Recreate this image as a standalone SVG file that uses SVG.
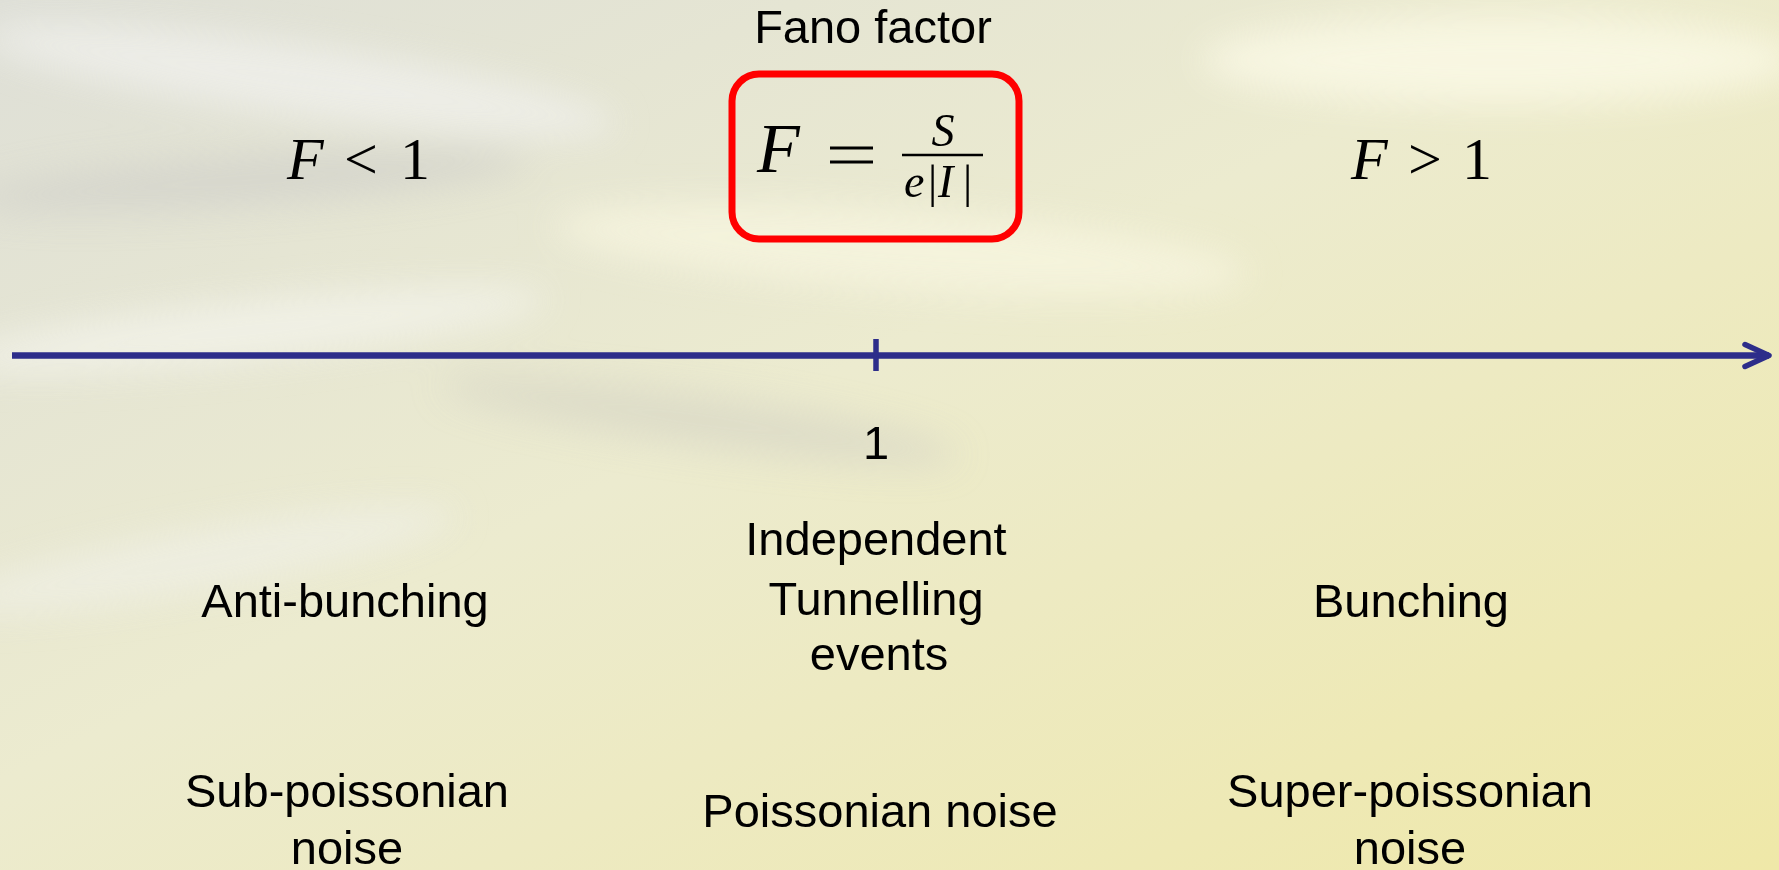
<svg xmlns="http://www.w3.org/2000/svg" width="1779" height="870" viewBox="0 0 1779 870">
<defs>
<linearGradient id="bg" x1="0" y1="0" x2="1" y2="1">
<stop offset="0" stop-color="#dedfd7"/>
<stop offset="0.45" stop-color="#ecebcf"/>
<stop offset="1" stop-color="#efe8a8"/>
</linearGradient>
<filter id="blur" x="-20%" y="-50%" width="140%" height="200%"><feGaussianBlur stdDeviation="18"/></filter>
<marker id="arrow" markerWidth="12" markerHeight="12" refX="9" refY="6" orient="auto" markerUnits="userSpaceOnUse" viewBox="0 0 12 12" overflow="visible">
<path d="M-15,-5 L9,6 L-15,17" fill="none" stroke="#2d2d8a" stroke-width="5.5" stroke-linecap="round" stroke-linejoin="round"/>
</marker>
<style>
.lbl{font-family:"Liberation Sans",Arial,sans-serif;font-size:47px;fill:#000;text-anchor:middle}
.math{font-family:"Liberation Serif","Times New Roman",serif;fill:#000}
.it{font-style:italic}
</style>
</defs>
<rect width="1779" height="870" fill="url(#bg)"/>
<g filter="url(#blur)" opacity="0.8">
<ellipse cx="1500" cy="60" rx="300" ry="45" fill="#fbf9e6"/>
<ellipse cx="300" cy="80" rx="320" ry="35" fill="#f0f0ec" transform="rotate(8 300 80)"/>
<ellipse cx="250" cy="330" rx="300" ry="30" fill="#f3f3ea" transform="rotate(-6 250 330)"/>
<ellipse cx="900" cy="250" rx="350" ry="40" fill="#f7f5df" transform="rotate(4 900 250)"/>
<ellipse cx="200" cy="560" rx="260" ry="30" fill="#efefe4" transform="rotate(-10 200 560)"/>
<ellipse cx="700" cy="420" rx="260" ry="25" fill="#d9d8c6" transform="rotate(8 700 420)"/>
<ellipse cx="250" cy="180" rx="280" ry="25" fill="#d3d3cb" transform="rotate(-4 250 180)"/>
</g>
<g id="axis">
<line x1="12" y1="355.5" x2="1769" y2="355.5" stroke="#2d2d8a" stroke-width="6.5" marker-end="url(#arrow)"/>
<line x1="876" y1="339" x2="876" y2="371" stroke="#2d2d8a" stroke-width="5.5"/>
</g>
<g id="title"><text class="lbl" x="873" y="43">Fano factor</text></g>
<g id="formula">
<rect x="732" y="74" width="287" height="165" rx="27" ry="27" fill="none" stroke="#ff0000" stroke-width="7"/>
<text class="math it" x="757" y="172" font-size="70">F</text>
<line x1="830" y1="148" x2="873" y2="148" stroke="#000" stroke-width="3"/>
<line x1="830" y1="162" x2="873" y2="162" stroke="#000" stroke-width="3"/>
<text class="math it" x="943" y="146" font-size="46" text-anchor="middle">S</text>
<line x1="902" y1="155" x2="983" y2="155" stroke="#000" stroke-width="2.5"/>
<text class="math" y="197" font-size="46"><tspan class="it" x="904">e</tspan><tspan x="928">|</tspan><tspan class="it" x="938">I</tspan><tspan x="963">|</tspan></text>
</g>
<g id="left-cond"><text class="math" x="287" y="179" font-size="60"><tspan class="it">F</tspan><tspan x="344">&lt;</tspan><tspan x="400">1</tspan></text></g>
<g id="right-cond"><text class="math" x="1351" y="179" font-size="60"><tspan class="it">F</tspan><tspan x="1408">&gt;</tspan><tspan x="1462">1</tspan></text></g>
<g id="tick-label"><text class="lbl" x="876" y="459">1</text></g>
<g id="anti"><text class="lbl" x="345" y="617">Anti-bunching</text></g>
<g id="indep"><text class="lbl" x="876" y="555">Independent</text><text class="lbl" x="876" y="615">Tunnelling</text><text class="lbl" x="879" y="670">events</text></g>
<g id="bunch"><text class="lbl" x="1411" y="617">Bunching</text></g>
<g id="sub"><text class="lbl" x="347" y="807">Sub-poissonian</text><text class="lbl" x="347" y="864">noise</text></g>
<g id="poiss"><text class="lbl" x="880" y="827">Poissonian noise</text></g>
<g id="super"><text class="lbl" x="1410" y="807">Super-poissonian</text><text class="lbl" x="1410" y="864">noise</text></g>
</svg>
